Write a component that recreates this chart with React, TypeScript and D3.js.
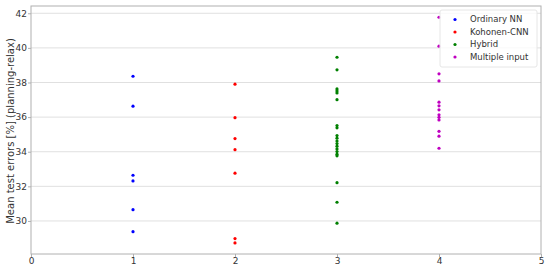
import React, { useRef, useEffect } from "react";
import * as d3 from "d3";

const WIDTH = 550;
const HEIGHT = 271;
const MARGIN = { top: 6, right: 9, bottom: 17, left: 31 };

const SERIES_NAMES = ["Ordinary NN", "Kohonen-CNN", "Hybrid", "Multiple input"];
const SERIES_X = [1, 2, 3, 4];
const SERIES_COLORS = ["#0000ff", "#ff0000", "#008000", "#c000c0"];

const ordinaryNN = [38.36, 36.63, 32.64, 32.31, 30.65, 29.38];
const kohonenCNN = [37.9, 35.97, 34.76, 34.12, 32.76, 28.98, 28.73];
const hybrid = [
  39.46, 38.73, 37.63, 37.51, 37.4, 37.01, 35.51, 35.38, 34.93, 34.78, 34.62,
  34.47, 34.32, 34.16, 34.01, 33.86, 33.76, 32.21, 31.08, 29.87,
];
const multipleInput = [
  41.77, 40.1, 38.5, 38.09, 36.86, 36.65, 36.42, 36.13, 35.99, 35.84, 35.18,
  34.9, 34.2,
];

const X_TICKS = [0, 1, 2, 3, 4, 5];
const Y_TICKS = [30, 32, 34, 36, 38, 40, 42];
const Y_LABEL = "Mean test errors [%] (planning-relax)";

const FONT = "DejaVu Sans, sans-serif";
const TEXT_COLOR = "#333333";
const AXIS_COLOR = "#b0b0b0";
const GRID_COLOR = "#e0e0e0";

const App = () => {
  const ref = useRef<HTMLDivElement>(null);

  useEffect(() => {
    if (!ref.current) return;
    ref.current.innerHTML = "";

    const innerWidth = WIDTH - MARGIN.left - MARGIN.right;
    const innerHeight = HEIGHT - MARGIN.top - MARGIN.bottom;

    const x = d3.scaleLinear().domain([0, 5]).range([0, innerWidth]);
    const y = d3.scaleLinear().domain([28.09, 42.42]).range([innerHeight, 0]);

    const root = d3
      .select(ref.current)
      .append("svg")
      .attr("width", WIDTH)
      .attr("height", HEIGHT)
      .style("display", "block")
      .style("position", "absolute")
      .style("left", "0px")
      .style("top", "0px")
      .style("font-family", FONT);

    const svg = root
      .append("g")
      .attr("transform", `translate(${MARGIN.left},${MARGIN.top})`);

    // grid
    svg
      .append("g")
      .selectAll("line")
      .data(Y_TICKS)
      .enter()
      .append("line")
      .attr("x1", 0)
      .attr("x2", innerWidth)
      .attr("y1", (d) => y(d))
      .attr("y2", (d) => y(d))
      .attr("stroke", GRID_COLOR)
      .attr("stroke-width", 1);

    // frame
    svg
      .append("rect")
      .attr("x", 0)
      .attr("y", 0)
      .attr("width", innerWidth)
      .attr("height", innerHeight)
      .attr("fill", "none")
      .attr("stroke", AXIS_COLOR)
      .attr("stroke-width", 1);

    const xAxis = d3.axisBottom(x).tickValues(X_TICKS).tickFormat(d3.format("d")).tickSize(3);
    svg
      .append("g")
      .attr("transform", `translate(0,${innerHeight})`)
      .call(xAxis)
      .call((g) => {
        g.select(".domain").remove();
        g.selectAll(".tick line").attr("stroke", AXIS_COLOR);
        g.selectAll("text")
          .attr("fill", TEXT_COLOR)
          .attr("font-size", 9)
          .attr("dy", "0.7em")
          .attr("y", 4)
          .style("font-family", FONT);
      });

    const yAxis = d3.axisLeft(y).tickValues(Y_TICKS).tickFormat(d3.format("d")).tickSize(3);
    svg
      .append("g")
      .call(yAxis)
      .call((g) => {
        g.select(".domain").remove();
        g.selectAll(".tick line").attr("stroke", AXIS_COLOR);
        g.selectAll("text")
          .attr("fill", TEXT_COLOR)
          .attr("font-size", 9)
          .attr("x", -4)
          .style("font-family", FONT);
      });

    root
      .append("text")
      .attr("transform", `translate(10,131) rotate(-90)`)
      .attr("text-anchor", "middle")
      .attr("dy", "0.35em")
      .attr("font-size", 10)
      .attr("fill", TEXT_COLOR)
      .text(Y_LABEL);

    const allSeries = [ordinaryNN, kohonenCNN, hybrid, multipleInput];
    allSeries.forEach((values, i) => {
      svg
        .append("g")
        .selectAll("circle")
        .data(values)
        .enter()
        .append("circle")
        .attr("cx", x(SERIES_X[i]))
        .attr("cy", (d) => y(d))
        .attr("r", 1.6)
        .attr("fill", SERIES_COLORS[i]);
    });

    // legend
    const legend = svg
      .append("g")
      .attr("transform", `translate(${innerWidth - 101},4)`);
    legend
      .append("rect")
      .attr("width", 97)
      .attr("height", 57)
      .attr("rx", 2)
      .attr("fill", "white")
      .attr("fill-opacity", 0.8)
      .attr("stroke", "#e6e6e6");
    SERIES_NAMES.forEach((name, i) => {
      const row = legend.append("g").attr("transform", `translate(0,${9.5 + i * 12.5})`);
      row
        .append("circle")
        .attr("cx", 15)
        .attr("cy", 0)
        .attr("r", 1.6)
        .attr("fill", SERIES_COLORS[i]);
      row
        .append("text")
        .attr("x", 30)
        .attr("y", 0)
        .attr("dy", "0.35em")
        .attr("font-size", 8.5)
        .attr("fill", TEXT_COLOR)
        .text(name);
    });
  }, []);

  return <div ref={ref} />;
};

export default App;
